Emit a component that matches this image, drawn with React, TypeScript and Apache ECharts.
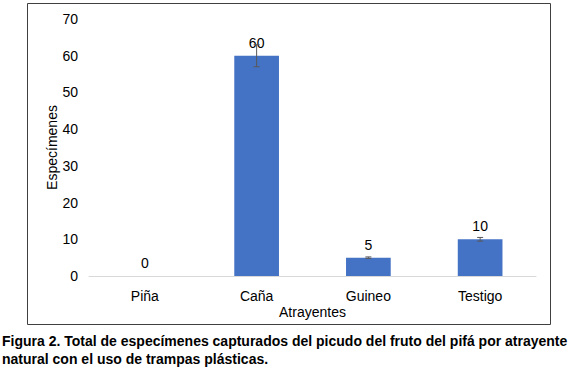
import React, { useEffect, useRef } from "react";
import * as echarts from "echarts";

const categories = ["Piña", "Caña", "Guineo", "Testigo"];
const values = [0, 60, 5, 10];
const errors = [0, 3, 0.2, 0.5];
const caption1 = "Figura 2. Total de especímenes capturados del picudo del fruto del pifá por atrayente";
const caption2 = "natural con el uso de trampas plásticas.";

export default function App() {
  const ref = useRef<HTMLDivElement>(null);
  useEffect(() => {
    document.body.style.margin = "0";
    const chart = echarts.init(ref.current!, null, { renderer: "svg" });
    const font = "'Liberation Sans', Arial, sans-serif";
    chart.setOption({
      animation: false,
      backgroundColor: "#ffffff",
      textStyle: { fontFamily: font },
      grid: { left: 89, right: 49, top: 19, bottom: 98 },
      xAxis: {
        type: "category",
        data: categories,
        name: "Atrayentes",
        nameLocation: "middle",
        nameGap: 29,
        nameMoveOverlap: false,
        nameTextStyle: { fontSize: 14, color: "#000", fontFamily: font },
        axisLine: { lineStyle: { color: "#d9d9d9", width: 1 } },
        axisTick: { show: false },
        axisLabel: { fontSize: 14, color: "#000", margin: 13, fontFamily: font },
      },
      yAxis: {
        type: "value",
        min: 0,
        max: 70,
        interval: 10,
        name: "Especímenes",
        nameLocation: "middle",
        nameGap: 30,
        nameMoveOverlap: false,
        nameTextStyle: { fontSize: 14, color: "#000", fontFamily: font },
        axisLine: { show: false },
        axisTick: { show: false },
        splitLine: { show: false },
        axisLabel: { fontSize: 14, color: "#000", margin: 11, fontFamily: font },
      },
      series: [
        {
          type: "bar",
          data: values,
          barWidth: "40%",
          itemStyle: { color: "#4472c4" },
          label: {
            show: true,
            position: "top",
            distance: 6,
            fontSize: 14,
            color: "#000",
            fontFamily: font,
          },
        },
        {
          type: "custom",
          data: values.map((v, i) => [i, v, errors[i]]),
          z: 10,
          renderItem: (params: any, api: any) => {
            const i = api.value(0);
            const v = api.value(1);
            const e = api.value(2);
            if (!e) return { type: "group", children: [] };
            const hi = api.coord([i, v + e]);
            const lo = api.coord([i, v - e]);
            const w = 3;
            const style = { stroke: "#595959", lineWidth: 1 };
            return {
              type: "group",
              children: [
                { type: "line", shape: { x1: hi[0], y1: hi[1], x2: lo[0], y2: lo[1] }, style },
                { type: "line", shape: { x1: hi[0] - w, y1: hi[1], x2: hi[0] + w, y2: hi[1] }, style },
                { type: "line", shape: { x1: lo[0] - w, y1: lo[1], x2: lo[0] + w, y2: lo[1] }, style },
              ],
            };
          },
        },
      ],
      graphic: [
        {
          type: "rect",
          shape: { x: 27.5, y: 3.5, width: 523, height: 321 },
          style: { fill: "none", stroke: "#404040", lineWidth: 1 },
          silent: true,
        },
        {
          type: "text",
          left: 2,
          top: 334,
          style: { text: caption1, font: `bold 14px ${font}`, fill: "#000" },
        },
        {
          type: "text",
          left: 2,
          top: 352,
          style: { text: caption2, font: `bold 14px ${font}`, fill: "#000" },
        },
      ],
    });
    return () => chart.dispose();
  }, []);
  return <div ref={ref} style={{ position: "absolute", left: 0, top: 0, width: 585, height: 374 }} />;
}
